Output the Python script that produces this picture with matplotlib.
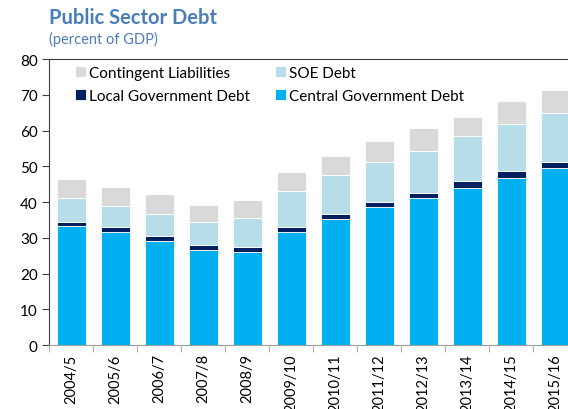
import matplotlib.pyplot as plt
import numpy as np
from matplotlib.ticker import FixedLocator

plt.rcParams['font.family'] = ['Lato', 'DejaVu Sans']

years = ['2004/5', '2005/6', '2006/7', '2007/8', '2008/9', '2009/10',
         '2010/11', '2011/12', '2012/13', '2013/14', '2014/15', '2015/16']
# tops of each stacked level
central_top = [33.3, 31.5, 29.0, 26.6, 26.0, 31.5, 35.2, 38.6, 41.2, 43.9, 46.7, 49.5]
local_top = [34.5, 32.9, 30.5, 28.0, 27.4, 32.9, 36.6, 40.1, 42.6, 45.8, 48.6, 51.2]
soe_top = [41.2, 39.0, 36.7, 34.5, 35.5, 43.0, 47.7, 51.1, 54.4, 58.4, 61.9, 64.8]
total = [46.4, 44.2, 42.2, 39.1, 40.6, 48.5, 52.9, 57.1, 60.7, 63.9, 68.3, 71.2]

central = np.array(central_top)
local = np.array(local_top) - np.array(central_top)
soe = np.array(soe_top) - np.array(local_top)
contingent = np.array(total) - np.array(soe_top)

fig = plt.figure(figsize=(5.68, 4.10), dpi=100)
ax = fig.add_axes([0.0871, 0.156, 0.9296, 0.6976])

x = np.arange(len(years))
w = 0.66
kw = dict(width=w, edgecolor='white', linewidth=0.6)
b1 = ax.bar(x, central, color='#00B0F0', label='Central Government Debt', **kw)
b2 = ax.bar(x, local, bottom=central, color='#002060', label='Local Government Debt', **kw)
b3 = ax.bar(x, soe, bottom=central + local, color='#B7DDE8', label='SOE Debt', **kw)
b4 = ax.bar(x, contingent, bottom=central + local + soe, color='#D9D9D9',
            label='Contingent Liabilities', **kw)

ax.set_xlim(-0.5, len(years) - 0.5)
ax.set_ylim(0, 80)
ax.set_yticks(range(0, 81, 10))
ax.set_xticks(x)
ax.set_xticklabels(years, rotation=90, fontsize=10.5)
ax.xaxis.set_minor_locator(FixedLocator(np.arange(-0.5, len(years), 1)))
ax.tick_params(axis='x', which='major', length=0, pad=6)
ax.tick_params(axis='x', which='minor', length=5, color='#A0A0A0')
ax.tick_params(axis='y', length=5, labelsize=11, color='#404040')

ax.spines['right'].set_visible(False)
ax.spines['bottom'].set_color('#A0A0A0')
ax.spines['left'].set_color('#404040')
ax.spines['top'].set_color('#404040')

ax.legend([b4, b2, b3, b1],
          ['Contingent Liabilities', 'Local Government Debt', 'SOE Debt', 'Central Government Debt'],
          ncol=2, frameon=False, loc='upper left', bbox_to_anchor=(0.022, 1.025),
          fontsize=11, handlelength=0.75, handleheight=0.75, handletextpad=0.2,
          columnspacing=1.6, labelspacing=0.6)

fig.text(0.086, 0.957, 'Public Sector Debt', fontsize=14.5, fontweight='bold',
         color='#4A7EBB', va='center', ha='left')
fig.text(0.086, 0.903, '(percent of GDP)', fontsize=10.5, color='#4A7EBB',
         va='center', ha='left')

fig.savefig('out.png', dpi=100)
